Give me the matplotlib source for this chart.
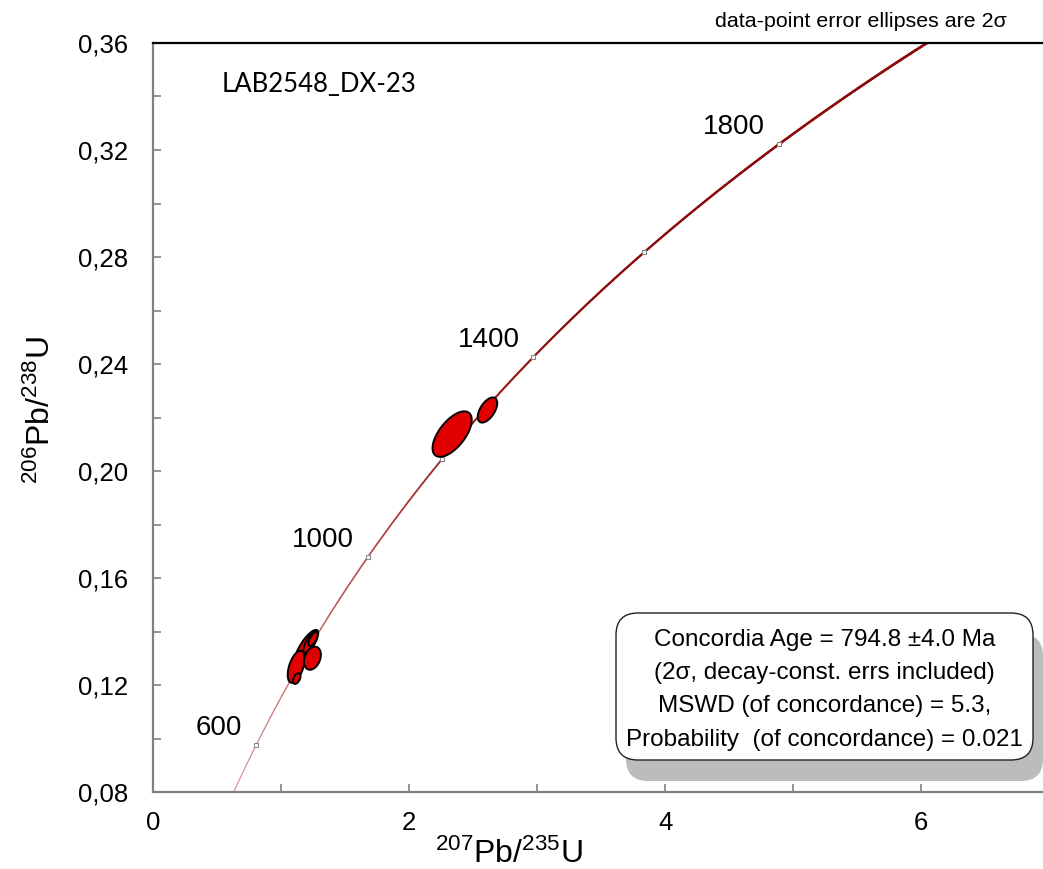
import numpy as np
import matplotlib
matplotlib.use("Agg")
import matplotlib.pyplot as plt
from matplotlib.collections import LineCollection
from matplotlib.patches import Polygon, FancyBboxPatch
from matplotlib.ticker import MultipleLocator, FuncFormatter
from matplotlib.colors import to_rgb

plt.rcParams['font.family'] = ['Liberation Sans', 'DejaVu Sans']
plt.rcParams['mathtext.fontset'] = 'custom'
plt.rcParams['mathtext.rm'] = 'Liberation Sans'
plt.rcParams['mathtext.it'] = 'Liberation Sans'

# Decay constants (1/yr)
LAMBDA_238 = 1.55125e-10
LAMBDA_235 = 9.8485e-10

# Concordia age marks (Ma) and which of them carry a label
marker_ages = [600, 800, 1000, 1200, 1400, 1600, 1800]
label_ages = [600, 1000, 1400, 1800]

# Analyses: 207Pb/235U, 206Pb/238U, 2-sigma errors and error correlation
x_vals = [1.200, 1.228, 1.250, 1.118, 1.245, 1.122, 2.336, 2.612]
y_vals = [0.1346, 0.1360, 0.1372, 0.1268, 0.1300, 0.1224, 0.2138, 0.2228]
x_err = [0.090, 0.054, 0.036, 0.066, 0.066, 0.030, 0.153, 0.076]
y_err = [0.0060, 0.0040, 0.0026, 0.0060, 0.0043, 0.0020, 0.0085, 0.0047]
rho = [0.80, 0.76, 0.65, 0.50, 0.30, 0.45, 0.62, 0.55]

sample_name = "LAB2548_DX-23"
result_lines = ["Concordia Age = 794.8 \u00b14.0 Ma",
                "(2\u03c3, decay-const. errs included)",
                "MSWD (of concordance) = 5.3,",
                "Probability  (of concordance) = 0.021"]


def ratios(age_ma):
    t = np.asarray(age_ma, dtype=float) * 1e6
    return np.exp(LAMBDA_235 * t) - 1.0, np.exp(LAMBDA_238 * t) - 1.0


fig = plt.figure(figsize=(10.43, 8.69), dpi=100)
ax = fig.add_axes([153 / 1043, 1 - 792 / 869, 890 / 1043, 749 / 869])
ax.set_xlim(0, 6.95)
ax.set_ylim(0.08, 0.36)

# Concordia curve, drawn heavier and darker toward older ages
ages = np.linspace(480, 2050, 600)
cx, cy = ratios(ages)
pts = np.column_stack([cx, cy]).reshape(-1, 1, 2)
segs = np.concatenate([pts[:-1], pts[1:]], axis=1)
frac = np.linspace(0, 1, len(segs))
c0, c1 = np.array(to_rgb('#e09a9a')), np.array(to_rgb('#8c0a0a'))
cols = [tuple(c0 + (c1 - c0) * min(1, f * 1.6)) for f in frac]
lc = LineCollection(segs, colors=cols, linewidths=0.7 + 1.3 * frac, zorder=2,
                    capstyle='round')
ax.add_collection(lc)

# Age marks
mx, my = ratios(marker_ages)
ax.plot(mx, my, linestyle='none', marker='s', ms=3, mfc='white',
        mec='#888888', mew=0.8, zorder=3)
lx, ly = ratios(label_ages)
for a, xx, yy in zip(label_ages, lx, ly):
    ax.annotate(str(a), (xx, yy), xytext=(-10, 3), textcoords='offset points',
                ha='right', va='bottom', fontsize=20, zorder=4)

# Error ellipses
theta = np.linspace(0, 2 * np.pi, 200)
for x0, y0, sx, sy, r in zip(x_vals, y_vals, x_err, y_err, rho):
    ex = x0 + sx * np.cos(theta)
    ey = y0 + sy * (r * np.cos(theta) + np.sqrt(1 - r * r) * np.sin(theta))
    ax.add_patch(Polygon(np.column_stack([ex, ey]), closed=True,
                         facecolor='#e00000', edgecolor='black', lw=1.4,
                         zorder=5))

# Axes styling
for side in ('left', 'bottom'):
    ax.spines[side].set_color('#808080')
    ax.spines[side].set_linewidth(1.6)
ax.spines['top'].set_color('black')
ax.spines['top'].set_linewidth(1.6)
ax.spines['right'].set_visible(False)

ax.xaxis.set_major_locator(MultipleLocator(2))
ax.xaxis.set_minor_locator(MultipleLocator(1))
ax.yaxis.set_major_locator(MultipleLocator(0.04))
ax.yaxis.set_minor_locator(MultipleLocator(0.02))
ax.yaxis.set_major_formatter(FuncFormatter(lambda v, p: f"{v:.2f}".replace('.', ',')))
ax.xaxis.set_major_formatter(FuncFormatter(lambda v, p: f"{v:g}"))
ax.tick_params(which='both', direction='in', color='#808080', width=1.2,
               top=False, right=False, labelsize=18.5)
ax.tick_params(which='major', length=6)
ax.tick_params(which='minor', length=6)
ax.tick_params(axis='y', pad=18)
ax.tick_params(axis='x', pad=14)

ax.set_xlabel(r'$^{207}$Pb/$^{235}$U', fontsize=23)
ax.set_ylabel(r'$^{206}$Pb/$^{238}$U', fontsize=23)
ax.xaxis.set_label_coords(0.40, -0.063)
ax.yaxis.set_label_coords(-0.108, 0.51)

ax.text(0.0775, 0.944, sample_name, transform=ax.transAxes, ha='left',
        va='center', fontsize=18.5, family=['Lato', 'DejaVu Sans'])
fig.text(0.8255, 0.975, "data-point error ellipses are 2\u03c3", ha='center',
         va='center', fontsize=15.4)

# Result box with drop shadow (inch coordinates)
bx, by, bw, bh = 6.16, 1.09, 4.17, 1.47
shadow = FancyBboxPatch((bx + 0.10, by - 0.21), bw, bh,
                        boxstyle="round,pad=0,rounding_size=0.22",
                        transform=fig.dpi_scale_trans, facecolor='#bcbcbc',
                        edgecolor='none', zorder=6)
box = FancyBboxPatch((bx, by), bw, bh,
                     boxstyle="round,pad=0,rounding_size=0.22",
                     transform=fig.dpi_scale_trans, facecolor='white',
                     edgecolor='#222222', lw=1.0, zorder=7)
fig.add_artist(shadow)
fig.add_artist(box)
line_y = [640, 673, 706, 740]
for txt, yp in zip(result_lines, line_y):
    fig.text(bx + bw / 2, (869 - yp) / 100, txt, transform=fig.dpi_scale_trans,
             ha='center', va='center', fontsize=17.5, zorder=8)

fig.savefig("out.png", dpi=100)
